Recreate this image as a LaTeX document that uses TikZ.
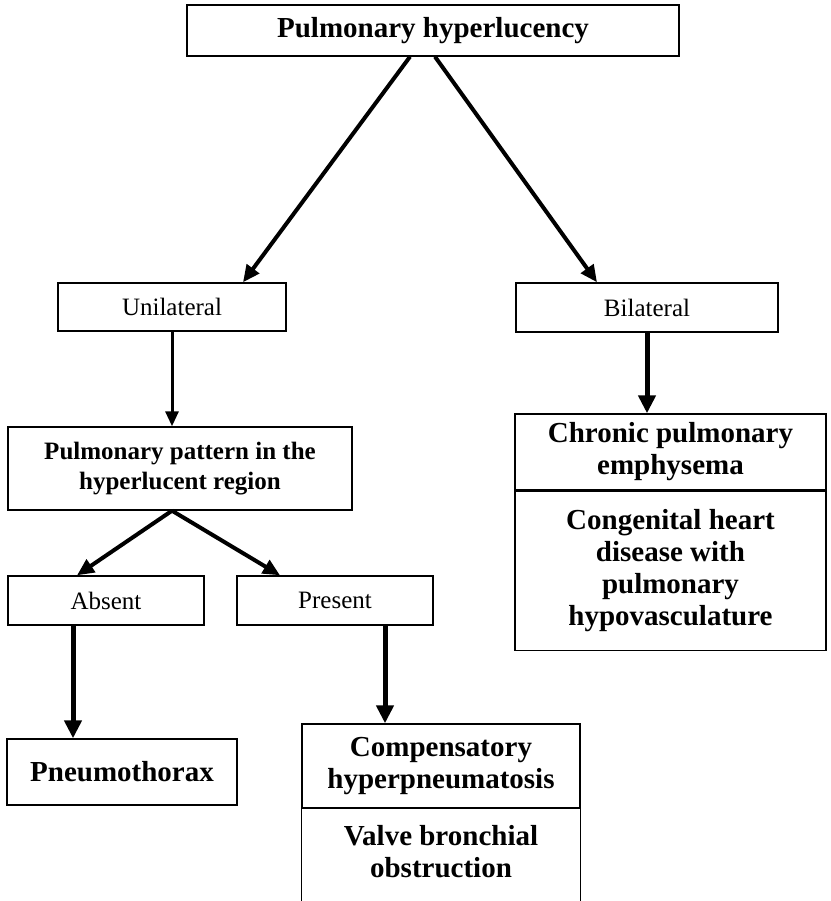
\documentclass[tikz,border=0pt]{standalone}
\usepackage{fontspec}
\setmainfont{Liberation Serif}
\usetikzlibrary{arrows.meta}

\tikzset{
  box/.style={draw, line width=1.4pt, inner sep=0pt, align=center,
    font=\bfseries\fontsize{29}{32}\selectfont},
  choicebox/.style={box, font=\fontsize{25}{30}\selectfont},
  arr/.style={line width=4pt, -{Triangle[length=17pt,width=15pt]}},
  thinarr/.style={line width=3pt, -{Triangle[length=15pt,width=13pt]}},
  thickarr/.style={line width=5pt, -{Triangle[length=18pt,width=17pt]}}
}

\begin{document}
\begin{tikzpicture}[x=1pt, y=-1pt]
    \useasboundingbox (0,0) rectangle (830,901);

    % Top
    \node[box, minimum width=492pt, minimum height=51pt] (hyper) at (433,30.5) {Pulmonary hyperlucency};

    % Unilateral / Bilateral
    \node[choicebox, minimum width=228pt, minimum height=48pt] (uni) at (172,307) {Unilateral};
    \node[choicebox, minimum width=262pt, minimum height=49pt] (bil) at (647,307.5) {Bilateral};

    % Pattern
    \node[box, font=\bfseries\fontsize{25}{30}\selectfont, minimum width=344pt, minimum height=83pt] (pattern) at (180,468.5) {Pulmonary pattern in the\\hyperlucent region};

    % Bilateral causes
    \node[box, minimum width=311pt, minimum height=76pt] (chronic) at (670.5,452) {Chronic pulmonary\\emphysema};
    \node[box, minimum width=311pt, minimum height=159pt, anchor=north] (congenital) at (chronic.south) {Congenital heart\\disease with\\pulmonary\\hypovasculature};

    % Absent / Present
    \node[choicebox, minimum width=196pt, minimum height=49pt] (absent) at (106,600.5) {Absent};
    \node[choicebox, minimum width=196pt, minimum height=49pt] (present) at (335,600.5) {Present};

    % Unilateral causes
    \node[box, minimum width=230pt, minimum height=66pt] (pneumo) at (122,772) {Pneumothorax};
    \node[box, minimum width=278pt, minimum height=84pt] (comp) at (441,766) {Compensatory\\hyperpneumatosis};
    \node[box, draw=none, minimum width=278pt, minimum height=84pt, anchor=north] (valve) at (comp.south) {Valve bronchial\\obstruction};
    \draw[line width=1.4pt] (comp.south west) -- ++(0,120) (comp.south east) -- ++(0,120);

    % Arrows
    \draw[arr] ([xshift=-23pt]hyper.south) -- ([xshift=71pt]uni.north);
    \draw[arr] ([xshift=2pt]hyper.south) -- ([xshift=-50pt]bil.north);
    \draw[thinarr] (uni.south) -- (uni.south |- pattern.north);
    \draw[thickarr] (bil.south) -- (bil.south |- chronic.north);
    \draw[arr] ([xshift=-8pt]pattern.south) -- ([xshift=-29pt]absent.north);
    \draw[arr] ([xshift=-8pt]pattern.south) -- ([xshift=-55pt]present.north);
    \coordinate (absout) at ([xshift=-33pt]absent.south);
    \coordinate (presout) at ([xshift=50pt]present.south);
    \draw[thickarr] (absout) -- (absout |- pneumo.north);
    \draw[thickarr] (presout) -- (presout |- comp.north);
\end{tikzpicture}
\end{document}
